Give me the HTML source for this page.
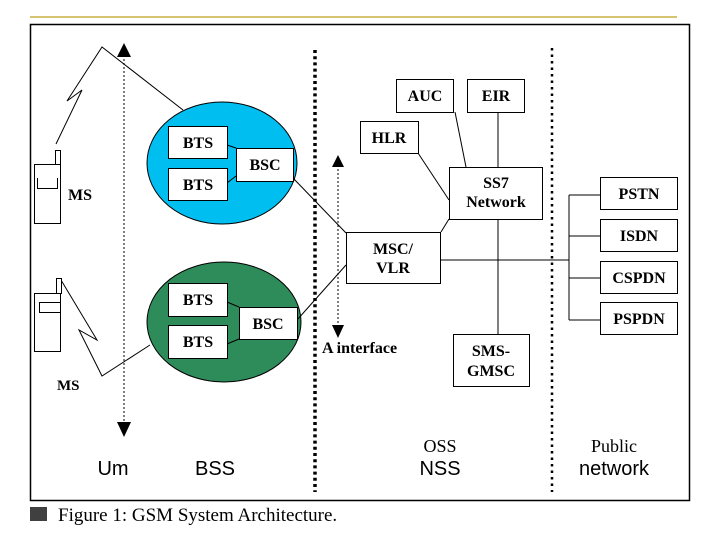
<!DOCTYPE html>
<html><head><meta charset="utf-8"><style>
html,body{margin:0;padding:0;background:#fff;}
svg{display:block;}
.s{font-family:"Liberation Serif",serif;font-weight:bold;font-size:16px;}
</style></head><body>
<svg width="720" height="540" viewBox="0 0 720 540" xmlns="http://www.w3.org/2000/svg">
<line x1="30" y1="17" x2="677" y2="17" stroke="#c8b040" stroke-width="1.5"/>
<rect x="30.5" y="24.5" width="659" height="476" fill="#fff" stroke="#000" stroke-width="1.5"/>
<line x1="315" y1="50" x2="315" y2="492" stroke="#000" stroke-width="3.5" stroke-dasharray="3,3.2"/>
<line x1="552" y1="48" x2="552" y2="492" stroke="#000" stroke-width="2.5" stroke-dasharray="2.5,4"/>
<line x1="124" y1="55" x2="124" y2="425" stroke="#000" stroke-width="1" stroke-dasharray="2,2"/>
<polygon points="124,43 117,57 131,57" fill="#000"/>
<polygon points="124,437 117,422 131,422" fill="#000"/>
<line x1="338" y1="165" x2="338" y2="328" stroke="#000" stroke-width="1" stroke-dasharray="2,2"/>
<polygon points="338,155 332,167 344,167" fill="#000"/>
<polygon points="338,338 332,325 344,325" fill="#000"/>
<polyline points="56,144 82,90 67,101 102,47 183,110" fill="none" stroke="#000" stroke-width="1"/>
<polyline points="61,280 97,340 79,330 102,376 150,345" fill="none" stroke="#000" stroke-width="1"/>
<rect x="55.5" y="150.5" width="5" height="14" fill="#fff" stroke="#000"/>
<rect x="34.5" y="164.5" width="26" height="59" fill="#fff" stroke="#000"/>
<polyline points="37.5,178 37.5,188.5 57.5,188.5 57.5,178" fill="none" stroke="#000"/>
<rect x="56.5" y="278.5" width="5" height="15" fill="#fff" stroke="#000"/>
<rect x="34.5" y="293.5" width="26" height="58" fill="#fff" stroke="#000"/>
<rect x="39.5" y="302.5" width="21" height="10" fill="#fff" stroke="#000"/>
<text class="s" x="68" y="200">MS</text>
<text class="s" x="57" y="390" style="font-size:15px">MS</text>
<ellipse cx="222" cy="163" rx="75" ry="61" fill="#00bff0" stroke="#000"/>
<ellipse cx="224" cy="322" rx="77" ry="60" fill="#2e8b5a" stroke="#000"/>
<g stroke="#000" stroke-width="1">
<line x1="227" y1="145" x2="236" y2="148"/><line x1="227" y1="183" x2="236" y2="176"/>
<line x1="227" y1="302" x2="239" y2="307"/><line x1="227" y1="344" x2="239" y2="339"/>
<line x1="293" y1="178" x2="346" y2="233"/>
<line x1="297" y1="320" x2="346" y2="265"/>
<line x1="455" y1="112" x2="466" y2="167"/>
<line x1="498" y1="112" x2="498" y2="167"/>
<line x1="418" y1="153" x2="449" y2="200"/>
<line x1="449" y1="219" x2="441" y2="232"/>
<line x1="498" y1="219" x2="498" y2="334"/>
<line x1="440" y1="260" x2="569" y2="260"/>
<line x1="569" y1="195" x2="569" y2="320"/>
<line x1="569" y1="195" x2="600" y2="195"/><line x1="569" y1="236" x2="600" y2="236"/>
<line x1="569" y1="278" x2="600" y2="278"/><line x1="569" y1="320" x2="600" y2="320"/>
</g>
<g fill="#fff" stroke="#000" stroke-width="1">
<rect x="168.5" y="126.5" width="59" height="32"/>
<rect x="168.5" y="168.5" width="59" height="32"/>
<rect x="236.5" y="148.5" width="57" height="33"/>
<rect x="168.5" y="283.5" width="59" height="33"/>
<rect x="168.5" y="325.5" width="59" height="33"/>
<rect x="239.5" y="307.5" width="58" height="32"/>
<rect x="396.5" y="79.5" width="57" height="33"/>
<rect x="467.5" y="79.5" width="57" height="33"/>
<rect x="360.5" y="121.5" width="58" height="32"/>
<rect x="449.5" y="167.5" width="93" height="52"/>
<rect x="346.5" y="232.5" width="94" height="51"/>
<rect x="453.5" y="334.5" width="76" height="52"/>
<rect x="600.5" y="177.5" width="77" height="32"/>
<rect x="600.5" y="219.5" width="77" height="32"/>
<rect x="600.5" y="261.5" width="77" height="32"/>
<rect x="600.5" y="302.5" width="77" height="32"/>
</g>
<g class="s" text-anchor="middle">
<text x="198" y="148">BTS</text><text x="198" y="190">BTS</text><text x="265" y="170">BSC</text>
<text x="198" y="305">BTS</text><text x="198" y="347">BTS</text><text x="268" y="329">BSC</text>
<text x="425" y="101">AUC</text><text x="496" y="101">EIR</text><text x="389" y="143">HLR</text>
<text x="496" y="188">SS7</text><text x="496" y="207">Network</text>
<text x="393" y="254">MSC/</text><text x="393" y="273">VLR</text>
<text x="491" y="356">SMS-</text><text x="491" y="376">GMSC</text>
<text x="639" y="199">PSTN</text><text x="639" y="241">ISDN</text><text x="639" y="283">CSPDN</text><text x="639" y="324">PSPDN</text>
</g>
<text class="s" x="322" y="353">A interface</text>
<g font-family="Liberation Sans,sans-serif" font-size="20" text-anchor="middle">
<text x="113" y="475">Um</text><text x="215" y="475">BSS</text>
<text x="440" y="475">NSS</text><text x="614" y="475">network</text>
</g>
<g font-family="Liberation Serif,serif" font-size="18" text-anchor="middle">
<text x="440" y="452">OSS</text><text x="614" y="452">Public</text>
</g>
<rect x="30" y="507" width="17" height="14" fill="#404040"/>
<text x="58" y="521" font-family="Liberation Serif,serif" font-size="19">Figure 1: GSM System Architecture.</text>
</svg>
</body></html>
